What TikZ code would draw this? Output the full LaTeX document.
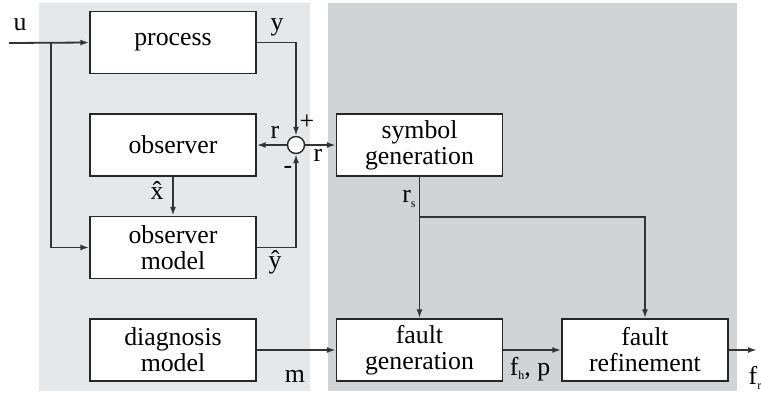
\documentclass[tikz,border=0pt]{standalone}
\usepackage{fontspec}
\setmainfont{Liberation Serif}
\usetikzlibrary{arrows.meta}
\definecolor{bglight}{HTML}{E6E7E8}
\definecolor{bgdark}{HTML}{D1D3D4}
\newcommand{\lowsub}[1]{\raisebox{-2.2pt}{\fontsize{6}{6}\selectfont #1}}
\newcommand{\diagfont}{\fontspec{Liberation Serif}\fontsize{12.9}{13}\selectfont}
\tikzset{%
  >={Latex[width=3pt,length=4.5pt]},
  % Specifications for style of nodes:
            base/.style = {rectangle, draw=black!85, line width=0.7pt,
                           minimum width=83pt, minimum height=31pt, inner sep=0pt,
                           text centered, align=center, font=\diagfont},
           block/.style = {base, fill=white},
         sumnode/.style = {circle, draw=black!85, line width=0.7pt, fill=white,
                           minimum size=8.5pt, inner sep=0pt},
             lbl/.style = {inner sep=0pt, font=\diagfont},
}

\begin{document}
\begin{tikzpicture}[x=0.5pt, y=-0.5pt, node distance=51.25pt,
    line width=0.9pt, draw=black!80]
  \useasboundingbox (0,0) rectangle (761,392);
  % Backgrounds
  \fill[bglight]	(39,3) rectangle (310,391);
  \fill[bgdark]		(328,3) rectangle (737,391);

  % Specification of nodes (position, etc.)
  \node (process)	[block] at (173,42.5) {process};
  \node (observer)	[block, below of=process] {observer};
  \node (obsmodel)	[block, below of=observer] {observer\\model};
  \node (diagmodel)	[block, below of=obsmodel] {diagnosis\\model};
  \node (symgen)	[block, right of=observer, xshift=72pt] {symbol\\generation};
  \node (faultgen)	[block, right of=diagmodel, xshift=72pt] {fault\\generation};
  \node (faultref)	[block, right of=faultgen, xshift=61.5pt] {fault\\refinement};
  \node (sum)		[sumnode] at (296,145) {};

  \coordinate (uin)	at (9,43);
  \coordinate (ubr)	at (51,43);
  \coordinate (rsbr)	at (419.5,217);
  \coordinate (fout)	at (757,350);

  \draw[->]		(uin) -- (process.west);
  \draw[->]		(ubr) |- (obsmodel.west);
  \draw[->]		(process.east) -| (sum.north);
  \draw[->]		(obsmodel.east) -| (sum.south);
  \draw[->]		(sum.west) -- (observer.east);
  \draw[->]		(sum.east) -- (symgen.west);
  \draw[->]		(observer) -- (obsmodel);
  \draw[->]		(diagmodel) -- (faultgen);
  \draw[->]		(symgen) -- (faultgen);
  \draw[->]		(rsbr) -| (faultref.north);
  \draw[->]		(faultgen) -- (faultref);
  \draw[->]		(faultref.east) -- (fout);

  % Signal labels
  \node (lu)	[lbl] at (20,25) {u};
  \node (ly)	[lbl] at (277,27) {y};
  \node (lplus)	[lbl] at (307,122) {+};
  \node (lminus)	[lbl] at (288,170) {-};
  \node (lrl)	[lbl] at (275,132) {r};
  \node (lrr)	[lbl] at (318,155) {r};
  \node (lxh)	[lbl] at (157,191) {\^{x}};
  \node (lyh)	[lbl] at (275,262) {\^{y}};
  \node (lm)	[lbl] at (295,376) {m};
  \node (lrs)	[lbl] at (409,199) {r\lowsub{s}};
  \node (lfh)	[lbl] at (530,369) {f\lowsub{h}, p};
  \node (lfr)	[lbl] at (755,378) {f\lowsub{r}};

  \end{tikzpicture}
\end{document}
